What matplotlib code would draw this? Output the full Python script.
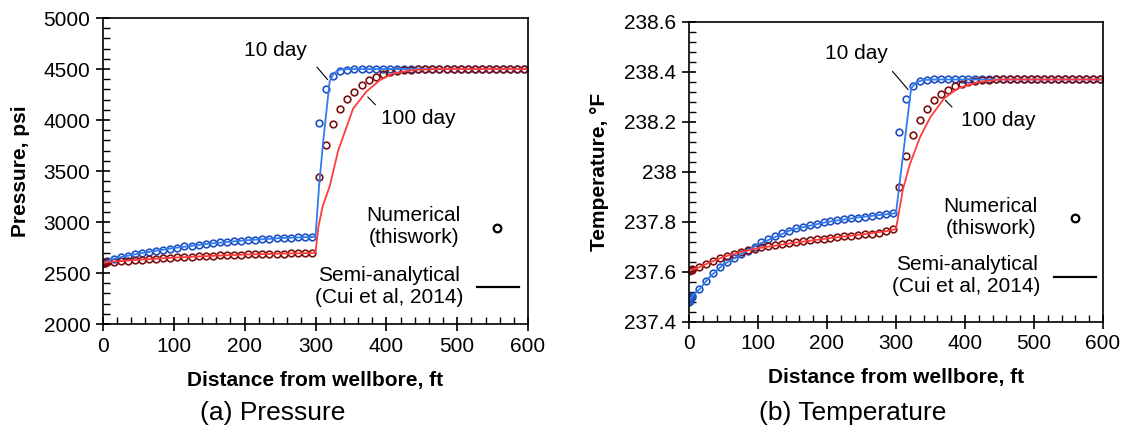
import matplotlib.pyplot as plt
import numpy as np
from matplotlib.ticker import MultipleLocator, FuncFormatter

plt.rcParams['font.family'] = ['Liberation Sans', 'DejaVu Sans']

# distance of the numerical grid points, ft
x_num = [0, 1, 2, 3, 4] + list(range(5, 600, 10))

# numerical pressure, psi
p_num_10 = [2600, 2603, 2606, 2609, 2612,
            2615, 2638, 2655, 2670, 2684, 2697, 2708, 2720, 2730, 2740,
            2750, 2760, 2769, 2777, 2785, 2792, 2800, 2806, 2812, 2818,
            2823, 2828, 2832, 2836, 2840, 2843, 2846, 2849, 2851, 2853,
            3970, 4300, 4430, 4478, 4495, 4499] + [4500] * 24
p_num_100 = [2600, 2601, 2602, 2603, 2605,
             2606, 2612, 2617, 2622, 2627, 2632, 2636, 2641, 2645, 2649,
             2653, 2657, 2660, 2664, 2667, 2670, 2673, 2676, 2678, 2680,
             2682, 2684, 2686, 2688, 2689, 2691, 2692, 2694, 2695, 2697,
             3444, 3755, 3958, 4105, 4206, 4278, 4343, 4392, 4425, 4448,
             4466, 4480, 4489, 4494, 4497, 4499] + [4500] * 14

# numerical temperature, F
t_num_10 = [237.481, 237.485, 237.490, 237.495, 237.500,
            237.505, 237.530, 237.565, 237.595, 237.620, 237.640, 237.655, 237.670, 237.685, 237.700,
            237.718, 237.730, 237.742, 237.754, 237.765, 237.774, 237.781, 237.788, 237.793, 237.798,
            237.802, 237.806, 237.811, 237.814, 237.817, 237.820, 237.823, 237.827, 237.831, 237.836,
            238.160, 238.290, 238.345, 238.363, 238.368] + [238.370] * 25
t_num_100 = [237.605, 237.606, 237.607, 237.608, 237.609,
             237.610, 237.619, 237.632, 237.644, 237.655, 237.664, 237.672, 237.679, 237.686, 237.692,
             237.698, 237.702, 237.706, 237.710, 237.714, 237.718, 237.722, 237.726, 237.730, 237.733,
             237.736, 237.739, 237.742, 237.744, 237.747, 237.750, 237.753, 237.757, 237.762, 237.772,
             237.940, 238.062, 238.148, 238.208, 238.251, 238.286, 238.310, 238.328, 238.343, 238.353,
             238.360, 238.364, 238.367, 238.369] + [238.370] * 16

# semi-analytical (Cui et al, 2014)
x_pa_10 = [0, 10, 25, 50, 75, 100, 150, 200, 250, 300, 305, 311, 320, 326, 335, 350, 600]
p_an_10 = [2600, 2628, 2655, 2690, 2718, 2745, 2788, 2820, 2842, 2855, 3350, 3800, 4380, 4460, 4495, 4500, 4500]
x_pa_100 = [0, 10, 25, 50, 100, 150, 200, 250, 300, 304, 310, 320, 332, 353, 372, 391, 410, 438, 470, 600]
p_an_100 = [2600, 2609, 2617, 2630, 2651, 2667, 2681, 2690, 2697, 2950, 3150, 3350, 3700, 4110, 4280, 4392, 4458, 4490, 4500, 4500]

x_ta_10 = [0, 5, 15, 30, 50, 75, 100, 150, 200, 250, 300, 322, 330, 340, 360, 600]
t_an_10 = [237.481, 237.505, 237.53, 237.58, 237.63, 237.67, 237.71, 237.77, 237.80, 237.82, 237.835,
           238.335, 238.36, 238.368, 238.37, 238.37]
x_ta_100 = [0, 5, 15, 30, 50, 75, 100, 150, 200, 250, 290, 300, 310, 320, 335, 350, 370, 390, 420, 450, 600]
t_an_100 = [237.605, 237.61, 237.619, 237.638, 237.66, 237.68, 237.695, 237.716, 237.734, 237.75, 237.765,
            237.772, 237.93, 238.03, 238.14, 238.22, 238.295, 238.335, 238.36, 238.37, 238.37]

c_line10 = '#2e7cf0'
c_line100 = '#ff3c3c'
c_mk10 = '#1f4fc0'
c_mk100 = '#7a1010'

fig = plt.figure(figsize=(11.28, 4.3), dpi=100)
ax1 = fig.add_axes([0.0913, 0.2465, 0.3768, 0.7116])
ax2 = fig.add_axes([0.6108, 0.2512, 0.367, 0.6977])


def style(ax, ymin, ymax, ymaj, ymin_step):
    ax.set_xlim(0, 600)
    ax.set_ylim(ymin, ymax)
    ax.xaxis.set_major_locator(MultipleLocator(100))
    ax.xaxis.set_minor_locator(MultipleLocator(20))
    ax.yaxis.set_major_locator(MultipleLocator(ymaj))
    ax.yaxis.set_minor_locator(MultipleLocator(ymin_step))
    ax.tick_params(which='major', direction='inout', length=10, width=1.2, labelsize=15, pad=4)
    ax.tick_params(which='minor', direction='in', length=5, width=1.0)
    for s in ax.spines.values():
        s.set_linewidth(1.2)
    ax.set_xlabel('Distance from wellbore, ft', fontsize=15, fontweight='bold')


ms = 4.8
mew = 1.2

# (a) pressure
ax1.plot(x_num, p_num_10, 'o', mfc='none', mec=c_mk10, ms=ms, mew=mew)
ax1.plot(x_num, p_num_100, 'o', mfc='none', mec=c_mk100, ms=ms, mew=mew)
ax1.plot(x_pa_10, p_an_10, '-', color=c_line10, lw=1.3)
ax1.plot(x_pa_100, p_an_100, '-', color=c_line100, lw=1.3)
style(ax1, 2000, 5000, 500, 100)
ax1.set_ylabel('Pressure, psi', fontsize=15, fontweight='bold')
ax1.xaxis.set_label_coords(0.5, -0.155)
ax1.yaxis.set_label_coords(-0.172, 0.5)

ax1.text(244, 4686, '10 day', fontsize=15, ha='center', va='center')
ax1.annotate('', xy=(319.7, 4375), xytext=(299.5, 4539), arrowprops=dict(arrowstyle='-', lw=0.8))
ax1.text(445, 4010, '100 day', fontsize=15, ha='center', va='center')
ax1.annotate('', xy=(371, 4245), xytext=(387.4, 4130), arrowprops=dict(arrowstyle='-', lw=0.8))

ax1.text(0.842, 0.32, 'Numerical\n(thiswork)', transform=ax1.transAxes, fontsize=15,
         ha='right', va='center', multialignment='center')
ax1.text(0.847, 0.1225, 'Semi-analytical\n(Cui et al, 2014)', transform=ax1.transAxes, fontsize=15,
         ha='right', va='center', multialignment='center')
ax1.plot([0.927], [0.314], 'o', mfc='none', mec='black', ms=5.5, mew=1.6, transform=ax1.transAxes)
ax1.plot([0.88, 0.979], [0.121, 0.121], '-', color='black', lw=1.6, transform=ax1.transAxes)

# (b) temperature
ax2.plot(x_num, t_num_10, 'o', mfc='none', mec=c_mk10, ms=ms, mew=mew)
ax2.plot(x_num, t_num_100, 'o', mfc='none', mec=c_mk100, ms=ms, mew=mew)
ax2.plot(x_ta_10, t_an_10, '-', color=c_line10, lw=1.3)
ax2.plot(x_ta_100, t_an_100, '-', color=c_line100, lw=1.3)
style(ax2, 237.4, 238.6, 0.2, 0.04)
ax2.yaxis.set_major_formatter(FuncFormatter(lambda v, p: '%g' % round(v, 1)))
ax2.set_ylabel('Temperature, °F', fontsize=15, fontweight='bold')
ax2.xaxis.set_label_coords(0.5, -0.155)
ax2.yaxis.set_label_coords(-0.193, 0.5)

ax2.text(243, 238.475, '10 day', fontsize=15, ha='center', va='center')
ax2.annotate('', xy=(320.3, 238.321), xytext=(292.3, 238.411), arrowprops=dict(arrowstyle='-', lw=0.8))
ax2.text(448, 238.205, '100 day', fontsize=15, ha='center', va='center')
ax2.annotate('', xy=(368.6, 238.295), xytext=(384, 238.252), arrowprops=dict(arrowstyle='-', lw=0.8))

ax2.text(0.843, 0.348, 'Numerical\n(thiswork)', transform=ax2.transAxes, fontsize=15,
         ha='right', va='center', multialignment='center')
ax2.text(0.85, 0.155, 'Semi-analytical\n(Cui et al, 2014)', transform=ax2.transAxes, fontsize=15,
         ha='right', va='center', multialignment='center')
ax2.plot([0.932], [0.347], 'o', mfc='none', mec='black', ms=5.5, mew=1.6, transform=ax2.transAxes)
ax2.plot([0.882, 0.983], [0.15, 0.15], '-', color='black', lw=1.6, transform=ax2.transAxes)

fig.text(0.2415, 0.04, '(a) Pressure', fontsize=19, ha='center', va='center')
fig.text(0.756, 0.04, '(b) Temperature', fontsize=19, ha='center', va='center')

fig.savefig('out.png', dpi=100)
